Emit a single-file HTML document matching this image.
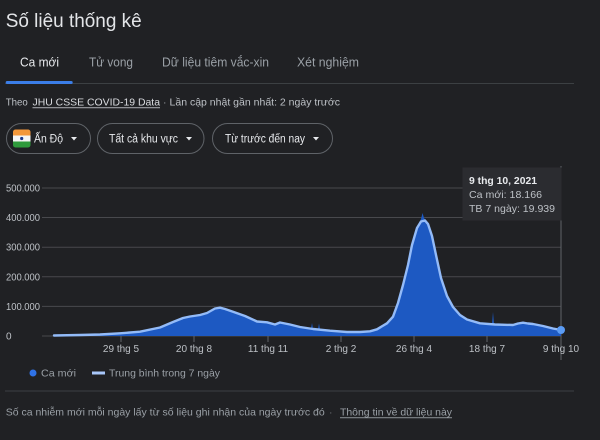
<!DOCTYPE html>
<html><head><meta charset="utf-8"><style>
html,body{margin:0;padding:0;background:#202124;}
body{width:600px;height:440px;overflow:hidden;position:relative;}
svg{position:absolute;left:0;top:0;}
text{font-family:"Liberation Sans","Noto Sans CJK JP",sans-serif;}
</style></head><body>
<svg width="600" height="440" viewBox="0 0 600 440" xmlns="http://www.w3.org/2000/svg">
<defs><clipPath id="fl"><rect x="13" y="129.5" width="17.5" height="18" rx="2.5"/></clipPath></defs>
<rect x="0" y="0" width="600" height="440" fill="#202124"/>
<!-- Title -->
<text x="5.7" y="27" font-size="19" fill="#e3e5e8" textLength="136" lengthAdjust="spacingAndGlyphs">Số liệu thống kê</text>
<!-- Tabs -->
<text x="20" y="66.5" font-size="13" fill="#e8eaed" textLength="39" lengthAdjust="spacingAndGlyphs">Ca mới</text>
<text x="89" y="66.5" font-size="13" fill="#9aa0a6" textLength="44" lengthAdjust="spacingAndGlyphs">Tử vong</text>
<text x="162" y="66.5" font-size="13" fill="#9aa0a6" textLength="107" lengthAdjust="spacingAndGlyphs">Dữ liệu tiêm vắc-xin</text>
<text x="297" y="66.5" font-size="13" fill="#9aa0a6" textLength="62" lengthAdjust="spacingAndGlyphs">Xét nghiệm</text>
<rect x="5" y="83" width="569" height="1" fill="#3c4043"/>
<rect x="5.7" y="81" width="67" height="3" rx="1.5" fill="#3b7ee8"/>
<!-- Source line -->
<text x="5.7" y="105.5" font-size="10.5" fill="#bdc1c6" textLength="22" lengthAdjust="spacingAndGlyphs">Theo</text>
<text x="32.5" y="105.5" font-size="10.5" fill="#dadce0" textLength="127.5" lengthAdjust="spacingAndGlyphs">JHU CSSE COVID-19 Data</text>
<rect x="32.5" y="107.3" width="127.5" height="0.9" fill="#bdc1c6"/>
<text x="163" y="105.5" font-size="10.5" fill="#9aa0a6">·</text>
<text x="169.5" y="105.5" font-size="10.5" fill="#bdc1c6" textLength="170.5" lengthAdjust="spacingAndGlyphs">Lần cập nhật gần nhất: 2 ngày trước</text>
<!-- Pills -->
<rect x="6.5" y="123.5" width="84" height="30" rx="15" fill="none" stroke="#5f6368" stroke-width="1"/>
<rect x="97.5" y="123.5" width="106.5" height="30" rx="15" fill="none" stroke="#5f6368" stroke-width="1"/>
<rect x="212.5" y="123.5" width="120" height="30" rx="15" fill="none" stroke="#5f6368" stroke-width="1"/>
<g clip-path="url(#fl)">
<rect x="13" y="129.5" width="17.5" height="6" fill="#f4983a"/>
<rect x="13" y="135.5" width="17.5" height="6" fill="#f5f5f5"/>
<rect x="13" y="141.5" width="17.5" height="6" fill="#2f9a3c"/>
</g>
<circle cx="21.7" cy="138.5" r="1.6" fill="#1d3a8a"/>
<text x="34" y="142.5" font-size="11.5" fill="#e8eaed" textLength="29" lengthAdjust="spacingAndGlyphs">Ấn Độ</text>
<polygon points="71,137 77,137 74,140.5" fill="#e8eaed"/>
<text x="109" y="142.5" font-size="11.5" fill="#e8eaed" textLength="69" lengthAdjust="spacingAndGlyphs">Tất cả khu vực</text>
<polygon points="186,137 192,137 189,140.5" fill="#e8eaed"/>
<text x="225" y="142.5" font-size="11.5" fill="#e8eaed" textLength="80" lengthAdjust="spacingAndGlyphs">Từ trước đến nay</text>
<polygon points="313,137 319,137 316,140.5" fill="#e8eaed"/>
<!-- Gridlines -->
<g stroke="#48494d" stroke-width="1">
<line x1="42" y1="188" x2="561" y2="188"/>
<line x1="42" y1="217.5" x2="561" y2="217.5"/>
<line x1="42" y1="247.2" x2="561" y2="247.2"/>
<line x1="42" y1="276.8" x2="561" y2="276.8"/>
<line x1="42" y1="306.4" x2="561" y2="306.4"/>
<line x1="42" y1="336" x2="561" y2="336"/>
</g>
<g font-size="10" fill="#bdc1c6">
<text x="6" y="191.5" textLength="34" lengthAdjust="spacingAndGlyphs">500.000</text>
<text x="6" y="221" textLength="34" lengthAdjust="spacingAndGlyphs">400.000</text>
<text x="6" y="250.7" textLength="34" lengthAdjust="spacingAndGlyphs">300.000</text>
<text x="6" y="280.3" textLength="34" lengthAdjust="spacingAndGlyphs">200.000</text>
<text x="6" y="309.9" textLength="34" lengthAdjust="spacingAndGlyphs">100.000</text>
<text x="6" y="339.5">0</text>
</g>
<!-- Vertical hover line -->
<line x1="561" y1="166" x2="561" y2="360" stroke="#5f6368" stroke-width="1"/>
<!-- Ticks -->
<g stroke="#5f6368" stroke-width="1">
<line x1="121" y1="336" x2="121" y2="342"/>
<line x1="194" y1="336" x2="194" y2="342"/>
<line x1="268" y1="336" x2="268" y2="342"/>
<line x1="341" y1="336" x2="341" y2="342"/>
<line x1="414" y1="336" x2="414" y2="342"/>
<line x1="487" y1="336" x2="487" y2="342"/>
</g>
<!-- Area (daily) -->
<path fill="#1d59c2" d="M54,336 L54,335.5 L80,335 L100,334.5 L120,333.3 L140,331.7 L160,327.5 L173,322 L183,318 L190,316.5 L200,315 L207,313 L215,308.5 L220,307.5 L225,309 L233,311.7 L245,316 L257,321.5 L267,322.3 L275,324.5 L280,322.5 L290,324.5 L300,327 L311,328.5 L312,323 L313,328.8 L318,329 L319,323.5 L320,329.2 L330,330.7 L347,332 L360,332 L370,331.3 L377,329.3 L387,323.3 L393,316.7 L398,303 L403,285 L408,265 L412,245 L417,227 L421,219 L422.5,213 L424,218 L425,219.5 L428,224 L432,236 L436,255 L441,278 L447,296 L453,307 L460,315 L467,319.5 L480,323.3 L492,324.3 L493,312 L494,324.4 L495,324.5 L513,325 L518,323.5 L523,322.7 L528,323.5 L533,324 L543,326 L553,328.5 L561,330 L561,336 Z"/>
<!-- 7-day avg line -->
<polyline fill="none" stroke="#93bbf8" stroke-width="2.4" stroke-linejoin="round" stroke-linecap="round" points="54,335.5 80,335 100,334.5 120,333.3 140,331.7 160,327.5 173,322 183,318 190,316.5 200,315 207,313 215,308.5 220,307.7 225,309 233,311.7 245,316 257,321.5 267,322.3 275,324.5 280,322.5 290,324.5 300,327 313,329 330,330.7 347,332 360,332 370,331.3 377,329.3 387,323.3 393,316.7 398,303 403,285 408,265 412,245 417,228 421,221.5 425,220.5 428,224 432,236 436,255 441,278 447,296 453,307 460,315 467,319.5 480,323.3 495,324.5 513,325 518,323.5 523,322.7 528,323.5 533,324 543,326 553,328.5 561,330"/>
<circle cx="561" cy="330" r="4" fill="#5b9cf5"/>
<!-- X labels -->
<g font-size="10" fill="#bdc1c6" text-anchor="middle">
<text x="121" y="352">29 thg 5</text>
<text x="194" y="352">20 thg 8</text>
<text x="268" y="352">11 thg 11</text>
<text x="341" y="352">2 thg 2</text>
<text x="414" y="352">26 thg 4</text>
<text x="487" y="352">18 thg 7</text>
<text x="561" y="352">9 thg 10</text>
</g>
<!-- Tooltip -->
<rect x="462.5" y="167.5" width="99" height="53" fill="#2b2c30"/>
<text x="469" y="184" font-size="10.5" font-weight="bold" fill="#e8eaed" textLength="68" lengthAdjust="spacingAndGlyphs">9 thg 10, 2021</text>
<text x="469" y="198" font-size="10.5" fill="#bdc1c6" textLength="73" lengthAdjust="spacingAndGlyphs">Ca mới: 18.166</text>
<text x="469" y="212" font-size="10.5" fill="#bdc1c6" textLength="86" lengthAdjust="spacingAndGlyphs">TB 7 ngày: 19.939</text>
<!-- Legend -->
<circle cx="33" cy="373" r="3.5" fill="#2f72e6"/>
<text x="41" y="376.7" font-size="10.5" fill="#9aa0a6" textLength="35" lengthAdjust="spacingAndGlyphs">Ca mới</text>
<line x1="92" y1="373" x2="105" y2="373" stroke="#a8c7fa" stroke-width="3"/>
<text x="109" y="376.7" font-size="10.5" fill="#9aa0a6" textLength="111" lengthAdjust="spacingAndGlyphs">Trung bình trong 7 ngày</text>
<rect x="5" y="390.5" width="569" height="1" fill="#3c4043"/>
<!-- Footer -->
<text x="5.7" y="415.5" font-size="10.5" fill="#9aa0a6" textLength="319" lengthAdjust="spacingAndGlyphs">Số ca nhiễm mới mỗi ngày lấy từ số liệu ghi nhận của ngày trước đó</text>
<text x="329" y="415.5" font-size="10.5" fill="#6f7378">·</text>
<text x="340" y="415.5" font-size="10.5" fill="#9aa0a6" textLength="112" lengthAdjust="spacingAndGlyphs">Thông tin về dữ liệu này</text>
<rect x="340" y="417.3" width="112" height="0.9" fill="#9aa0a6"/>
</svg>
</body></html>
